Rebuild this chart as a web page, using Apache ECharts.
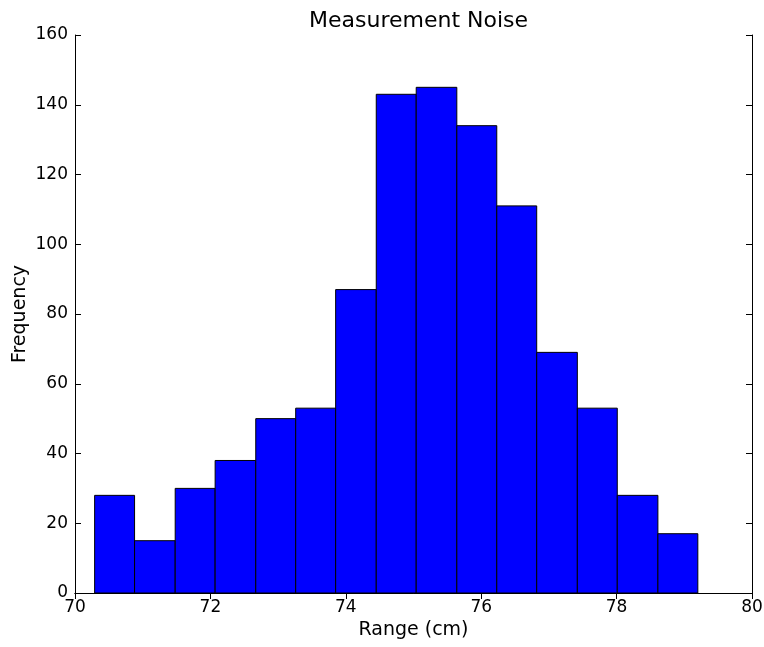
<!DOCTYPE html>
<html><head><meta charset="utf-8">
<script src="https://cdn.jsdelivr.net/npm/echarts@6/dist/echarts.min.js"></script>
<style>html,body{margin:0;padding:0;background:#fff}#c{width:764px;height:647px}</style>
</head><body><div id="c"></div>
<script>
const binEdges = [70.29, 70.88, 71.48, 72.07, 72.67, 73.26, 73.85, 74.45, 75.04, 75.64, 76.23, 76.82, 77.42, 78.01, 78.61, 79.20];
const counts = [28, 15, 30, 38, 50, 53, 87, 143, 145, 134, 111, 69, 53, 28, 17];
const xTicks = [70, 72, 74, 76, 78, 80];
const yTicks = [0, 20, 40, 60, 80, 100, 120, 140, 160];
const titleText = 'Measurement Noise';
const xLabel = 'Range (cm)';
const yLabel = 'Frequency';

const data = counts.map((c, i) => [binEdges[i], binEdges[i + 1], c]);
const font = 'DejaVu Sans';
const chart = echarts.init(document.getElementById('c'), null, {renderer: 'canvas'});
const axisCommon = {
  axisLine: {show: true, lineStyle: {color: '#000', width: 1}},
  axisTick: {show: true, inside: true, length: 6, lineStyle: {color: '#000'}},
  splitLine: {show: false}
};
chart.setOption({
  animation: false,
  title: {text: titleText, left: 413.5, textAlign: 'center', top: 5,
    textStyle: {fontFamily: font, fontSize: 22, fontWeight: 'normal', color: '#000'}},
  grid: {left: 75, right: 12, top: 35, bottom: 54, containLabel: false, outerBoundsMode: 'none'},
  xAxis: [
    Object.assign({type: 'value', min: xTicks[0], max: xTicks[xTicks.length - 1], interval: 2, position: 'bottom',
      name: xLabel, nameLocation: 'middle', nameGap: 28, nameMoveOverlap: false,
      nameTextStyle: {fontFamily: font, fontSize: 19, color: '#000'},
      axisLabel: {fontFamily: font, fontSize: 17, color: '#000', margin: 6}}, axisCommon),
    Object.assign({type: 'value', min: xTicks[0], max: xTicks[xTicks.length - 1], interval: 2, position: 'top',
      axisLabel: {show: false}}, axisCommon)
  ],
  yAxis: [
    Object.assign({type: 'value', min: yTicks[0], max: yTicks[yTicks.length - 1], interval: 20, position: 'left',
      name: yLabel, nameLocation: 'middle', nameGap: 45, nameRotate: 90, nameMoveOverlap: false,
      nameTextStyle: {fontFamily: font, fontSize: 19, color: '#000'},
      axisLabel: {fontFamily: font, fontSize: 17, color: '#000', margin: 7}}, axisCommon),
    Object.assign({type: 'value', min: yTicks[0], max: yTicks[yTicks.length - 1], interval: 20, position: 'right',
      axisLabel: {show: false}}, axisCommon)
  ],
  series: [{
    type: 'custom',
    xAxisIndex: 0, yAxisIndex: 0,
    data: data,
    renderItem: function (params, api) {
      const p0 = api.coord([api.value(0), 0]);
      const p1 = api.coord([api.value(1), api.value(2)]);
      return {
        type: 'rect',
        shape: {x: p0[0], y: p1[1], width: p1[0] - p0[0], height: p0[1] - p1[1]},
        style: {fill: '#0000ff', stroke: '#000', lineWidth: 1}
      };
    }
  }]
});
</script></body></html>
